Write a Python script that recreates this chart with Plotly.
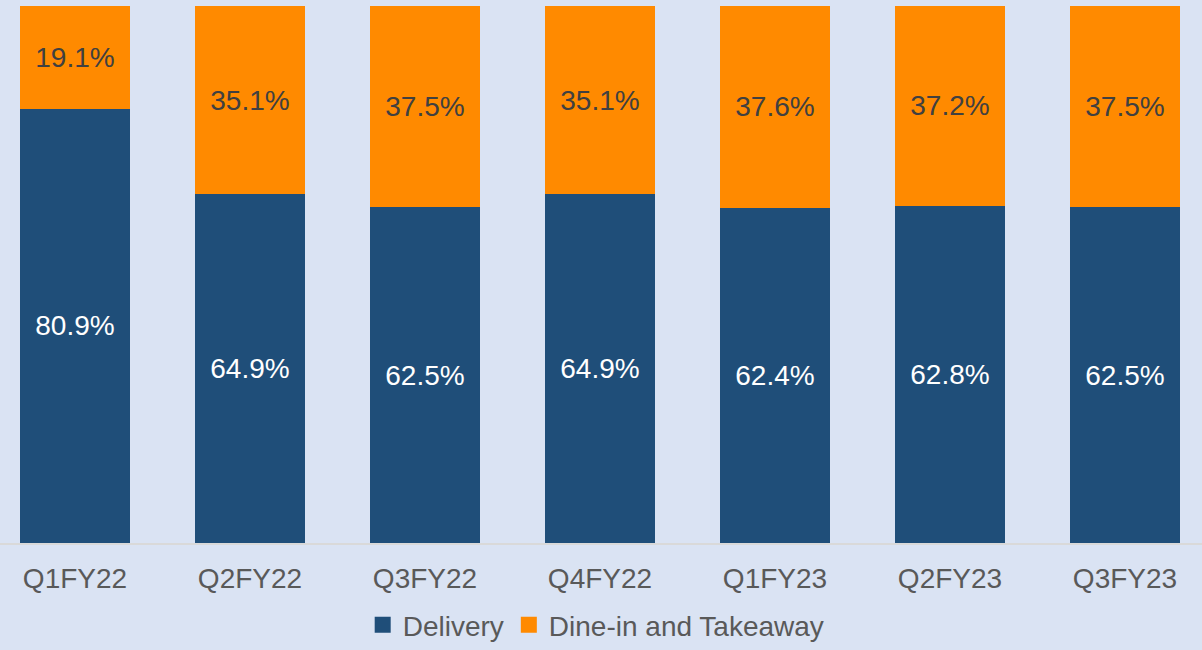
import plotly.graph_objects as go

categories = ["Q1FY22", "Q2FY22", "Q3FY22", "Q4FY22", "Q1FY23", "Q2FY23", "Q3FY23"]
delivery = [80.9, 64.9, 62.5, 64.9, 62.4, 62.8, 62.5]
dine_in = [19.1, 35.1, 37.5, 35.1, 37.6, 37.2, 37.5]
series_names = ["Delivery", "Dine-in and Takeaway"]
series_colors = ["#1F4E79", "#FF8A00"]

BG = "#DAE3F3"
FONT = "Liberation Sans, Arial, sans-serif"

fig = go.Figure()
fig.add_trace(go.Bar(
    x=categories, y=delivery, name=series_names[0], showlegend=False,
    marker=dict(color=series_colors[0], line=dict(width=0)),
    texttemplate="%{y:.1f}%", textposition="inside", insidetextanchor="middle",
    textfont=dict(color="white", size=28, family=FONT),
    width=110/175,
))
fig.add_trace(go.Bar(
    x=categories, y=dine_in, name=series_names[1], showlegend=False,
    marker=dict(color=series_colors[1], line=dict(width=0)),
    texttemplate="%{y:.1f}%", textposition="inside", insidetextanchor="middle",
    textfont=dict(color="#404040", size=28, family=FONT),
    width=110/175,
))
# legend entries with larger square symbols
for nm, col in zip(series_names, series_colors):
    fig.add_trace(go.Scatter(
        x=[None], y=[None], mode="markers", name=nm,
        marker=dict(symbol="square", size=16, color=col),
        showlegend=True,
    ))

fig.update_layout(
    barmode="stack",
    width=1202, height=650,
    paper_bgcolor=BG, plot_bgcolor=BG,
    margin=dict(l=0, r=0, t=0, b=107),
    font=dict(family=FONT, color="#595959"),
    legend=dict(
        orientation="h", x=0.496, xanchor="center", y=-0.198, yanchor="bottom",
        font=dict(size=28, color="#595959", family=FONT),
        bgcolor="rgba(0,0,0,0)", itemwidth=30, traceorder="normal",
    ),
    xaxis=dict(
        range=[-75/175, -75/175 + 1202/175],
        showline=True, linecolor="#D9D9D9", linewidth=2,
        ticks="", showgrid=False, ticklabelstandoff=9,
        tickfont=dict(size=28, color="#595959", family=FONT),
    ),
    yaxis=dict(
        range=[0, 100*543/537], visible=False, showgrid=False, zeroline=False,
    ),
)

fig.write_html(
    "out.html",
    config={"displayModeBar": False},
    post_script="document.body.style.margin='0';document.body.style.background='%s';" % BG,
)
